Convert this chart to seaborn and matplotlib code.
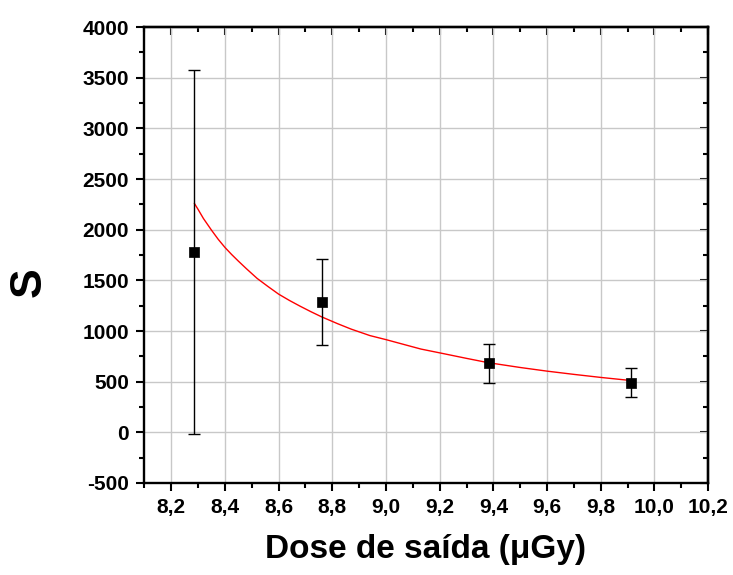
import matplotlib
matplotlib.use("Agg")
import matplotlib.pyplot as plt
import seaborn as sns
import pandas as pd
from matplotlib.ticker import FixedLocator, FixedFormatter, MultipleLocator

# Data
dose = [8.286, 8.76, 9.384, 9.912]
s_values = [1780, 1290, 680, 490]
s_err = [1800, 425, 195, 140]

curve_x = [8.286, 8.30, 8.32, 8.35, 8.375, 8.40, 8.425, 8.45, 8.48, 8.52, 8.56,
           8.60, 8.64, 8.68, 8.72, 8.76, 8.82, 8.87, 8.94, 9.00, 9.06, 9.13,
           9.21, 9.30, 9.38, 9.50, 9.60, 9.70, 9.80, 9.91]
curve_y = [2260, 2200, 2110, 1995, 1905, 1825, 1755, 1690, 1615, 1519, 1440,
           1364, 1302, 1245, 1191, 1140, 1072, 1019, 955, 915, 872, 822,
           779, 730, 688, 640, 604, 572, 542, 512]

xticks = [8.2, 8.4, 8.6, 8.8, 9.0, 9.2, 9.4, 9.6, 9.8, 10.0, 10.2]
xtick_labels = ["8,2", "8,4", "8,6", "8,8", "9,0", "9,2", "9,4", "9,6", "9,8", "10,0", "10,2"]
yticks = [-500, 0, 500, 1000, 1500, 2000, 2500, 3000, 3500, 4000]
ytick_labels = ["-500", "0", "500", "1000", "1500", "2000", "2500", "3000", "3500", "4000"]

sns.set_style("white")
plt.rcParams["font.family"] = ["Liberation Sans", "DejaVu Sans"]
plt.rcParams["text.color"] = "black"
plt.rcParams["axes.labelcolor"] = "black"
plt.rcParams["xtick.color"] = "black"
plt.rcParams["ytick.color"] = "black"

fig = plt.figure(figsize=(7.33, 5.75), dpi=100)
ax = fig.add_axes([0.197, 0.16, 0.769, 0.793])

pts = pd.DataFrame({"dose": dose, "S": s_values, "err": s_err})
curve = pd.DataFrame({"dose": curve_x, "S": curve_y})

ax.grid(True, color="#c8c8c8", linewidth=1.0, zorder=0)
ax.set_axisbelow(True)

sns.lineplot(data=curve, x="dose", y="S", ax=ax, color="red", linewidth=1.0,
             sort=True, estimator=None, zorder=3)
ax.errorbar(pts["dose"], pts["S"], yerr=pts["err"], fmt="none", ecolor="black",
            elinewidth=1.0, capsize=4.5, capthick=1.0, zorder=4)
sns.scatterplot(data=pts, x="dose", y="S", ax=ax, marker="s", s=55, color="black",
                edgecolor="black", linewidth=0.5, zorder=5)

ax.set_xlim(8.1, 10.2)
ax.set_ylim(-500, 4000)

ax.xaxis.set_major_locator(FixedLocator(xticks))
ax.xaxis.set_major_formatter(FixedFormatter(xtick_labels))
ax.yaxis.set_major_locator(FixedLocator(yticks))
ax.yaxis.set_major_formatter(FixedFormatter(ytick_labels))
ax.xaxis.set_minor_locator(MultipleLocator(0.1))
ax.yaxis.set_minor_locator(MultipleLocator(250))

ax.tick_params(which="major", direction="out", length=6, width=1.5,
               labelsize=15, pad=5, bottom=True, left=True, colors="black")
ax.tick_params(which="minor", direction="out", length=3.5, width=1.5,
               bottom=True, left=True, colors="black")
for lab in ax.get_xticklabels() + ax.get_yticklabels():
    lab.set_fontweight("bold")

for sp in ax.spines.values():
    sp.set_linewidth(1.7)
    sp.set_color("black")
    sp.set_visible(True)

# mirrored inward ticks on top and right
secx = ax.secondary_xaxis("top")
secx.xaxis.set_major_locator(FixedLocator(xticks))
secx.xaxis.set_minor_locator(MultipleLocator(0.1))
secx.tick_params(which="major", direction="in", length=6, width=1.5, labeltop=False, colors="black")
secx.tick_params(which="minor", direction="in", length=3.5, width=1.5, colors="black")
secx.spines["top"].set_linewidth(1.7)
secy = ax.secondary_yaxis("right")
secy.yaxis.set_major_locator(FixedLocator(yticks))
secy.yaxis.set_minor_locator(MultipleLocator(250))
secy.tick_params(which="major", direction="in", length=6, width=1.5, labelright=False, colors="black")
secy.tick_params(which="minor", direction="in", length=3.5, width=1.5, colors="black")
secy.spines["right"].set_linewidth(1.7)

ax.set_xlabel("Dose de saída (μGy)", fontsize=24, fontweight="bold")
ax.xaxis.set_label_coords(0.498, -0.112)
ax.set_ylabel("S", fontsize=32, fontweight="bold")
ax.yaxis.set_label_coords(-0.168, 0.44)

fig.savefig("out.png", dpi=100)
